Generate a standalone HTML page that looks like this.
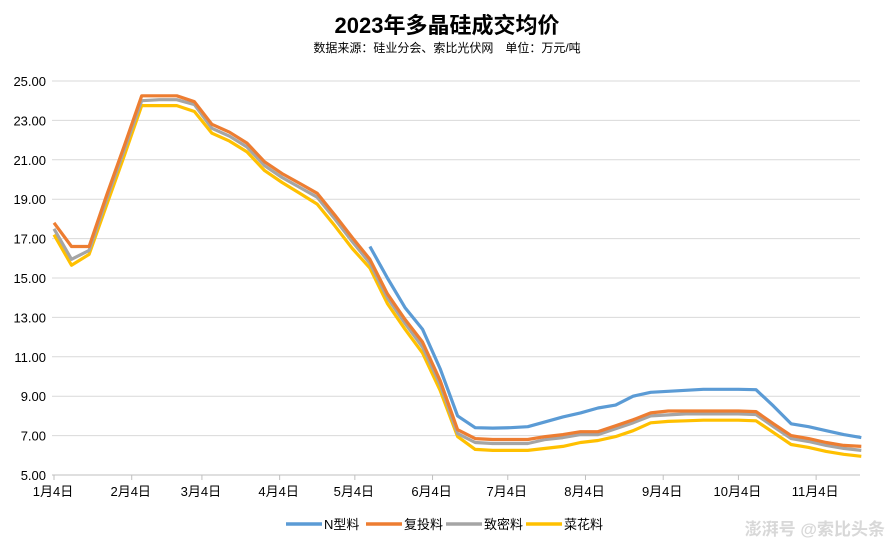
<!DOCTYPE html>
<html><head><meta charset="utf-8"><style>
body{margin:0;background:#fff;}
svg{display:block;font-family:"Liberation Sans","Noto Sans CJK SC",sans-serif;}
</style></head><body>
<svg id="chart" width="894" height="549">
<text x="447" y="33" text-anchor="middle" font-size="22" font-weight="bold" fill="#000">2023年多晶硅成交均价</text>
<text x="447" y="52" text-anchor="middle" font-size="12" fill="#000">数据来源：硅业分会、索比光伏网　单位：万元/吨</text>
<g id="grid"></g><g id="yt"></g><g id="xt"></g><g id="lines"></g><g id="legend"></g>
<text x="885" y="535" text-anchor="end" font-size="17" font-weight="bold" fill="#d8d8d8">澎湃号 @索比头条</text>
</svg>
<script>
const yTicks=[5,7,9,11,13,15,17,19,21,23,25];
const xLabels=["1月4日","2月4日","3月4日","4月4日","5月4日","6月4日","7月4日","8月4日","9月4日","10月4日","11月4日"];
const xLabelDays=[0,31,59,90,120,151,181,212,243,273,304];
const seriesNames=["N型料","复投料","致密料","菜花料"];
const seriesColors=["#5b9bd5","#ed7d31","#a5a5a5","#ffc000"];
const nType=[null,null,null,null,null,null,null,null,null,null,null,null,null,null,null,null,null,null,16.6,15.0,13.5,12.4,10.4,8.0,7.4,7.38,7.4,7.45,7.7,7.95,8.15,8.4,8.55,9.0,9.2,9.25,9.3,9.35,9.35,9.35,9.33,8.5,7.6,7.45,7.25,7.05,6.9];
const fuTou=[17.8,16.6,16.6,19.2,21.7,24.25,24.25,24.25,23.95,22.8,22.4,21.85,20.9,20.3,19.8,19.3,18.2,17.05,15.95,14.2,12.9,11.75,9.8,7.3,6.85,6.8,6.8,6.8,6.95,7.05,7.2,7.2,7.5,7.8,8.15,8.25,8.25,8.25,8.25,8.25,8.22,7.6,7.0,6.85,6.65,6.5,6.45];
const zhiMi=[17.5,15.95,16.4,19.0,21.5,24.0,24.05,24.05,23.8,22.6,22.2,21.65,20.7,20.1,19.6,19.1,18.0,16.85,15.75,14.0,12.7,11.5,9.6,7.1,6.65,6.6,6.6,6.6,6.8,6.9,7.05,7.05,7.35,7.65,8.0,8.05,8.1,8.1,8.1,8.1,8.07,7.45,6.85,6.7,6.5,6.35,6.25];
const caiHua=[17.2,15.65,16.2,18.7,21.2,23.75,23.75,23.75,23.45,22.35,21.95,21.4,20.45,19.85,19.3,18.75,17.65,16.5,15.5,13.7,12.4,11.2,9.3,6.95,6.3,6.25,6.25,6.25,6.35,6.45,6.65,6.75,6.95,7.25,7.65,7.72,7.75,7.78,7.78,7.78,7.75,7.15,6.55,6.4,6.2,6.05,5.95];
const NS="http://www.w3.org/2000/svg";
const X0=54,PXD=2.507,L=52,R=860;
const xDay=d=>X0+d*PXD;
const xIdx=i=>xDay(i*7);
const yV=v=>475-(v-5)*19.7;
function mk(tag,at,parent){const e=document.createElementNS(NS,tag);for(const k in at)e.setAttribute(k,at[k]);parent.appendChild(e);return e;}
const grid=document.getElementById('grid'),yt=document.getElementById('yt'),xt=document.getElementById('xt');
yTicks.forEach(v=>{
 const g=mk('line',{x1:L,x2:R,y1:yV(v),y2:yV(v),stroke:v===5?'#bfbfbf':'#d9d9d9','stroke-width':1},grid);
 
 
 const t=mk('text',{x:46,y:yV(v)+5,'text-anchor':'end','font-size':13,fill:'#000'},yt);
 t.textContent=v.toFixed(2);
 
 
});
xLabels.forEach((s,i)=>{
 const x=xDay(xLabelDays[i]);
 const tk=mk('line',{x1:x,x2:x,y1:475,y2:480,stroke:'#bfbfbf'},xt);
 
 
 const t=mk('text',{x:x-1,y:496,'text-anchor':'middle','font-size':13,fill:'#000'},xt);
 t.textContent=s;
 
 
});
const data=[nType,fuTou,zhiMi,caiHua];
const lines=document.getElementById('lines');
[3,2,1,0].forEach(k=>{
 let d='',pen=false;
 data[k].forEach((v,i)=>{if(v==null){pen=false;return;}d+=(pen?'L':'M')+xIdx(i).toFixed(1)+','+yV(v).toFixed(1);pen=true;});
 const p=mk('path',{d:d,fill:'none',stroke:seriesColors[k],'stroke-width':3.2,'stroke-linejoin':'round'},lines);
 
 
});
const lg=document.getElementById('legend');
const lx=[286,366,446,526];
seriesNames.forEach((n,k)=>{
 const g=mk('g',{},lg);
 
 
 mk('line',{x1:lx[k],x2:lx[k]+36,y1:524,y2:524,stroke:seriesColors[k],'stroke-width':3.5},g);
 const t=mk('text',{x:lx[k]+38,y:529,'font-size':13,fill:'#000'},g);
 t.textContent=n;
});
</script>
</body></html>
